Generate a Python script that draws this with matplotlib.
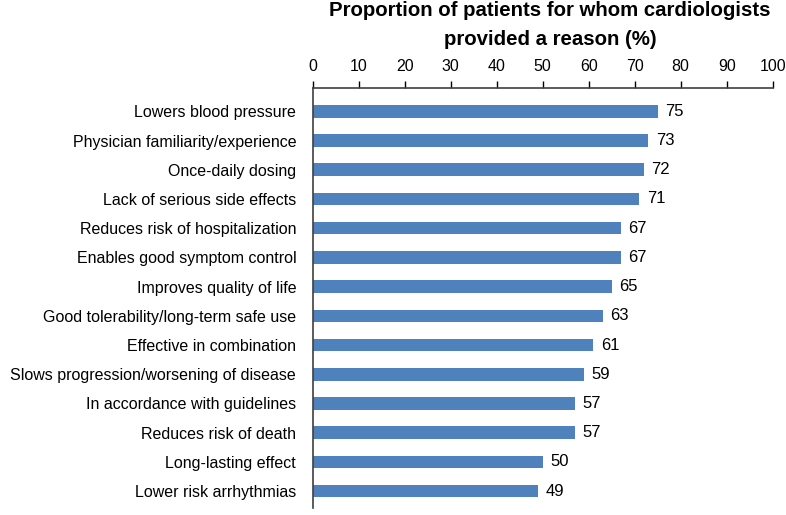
import matplotlib.pyplot as plt

plt.rcParams['font.family'] = ['Liberation Sans', 'DejaVu Sans']

reasons = [
    'Lowers blood pressure',
    'Physician familiarity/experience',
    'Once-daily dosing',
    'Lack of serious side effects',
    'Reduces risk of hospitalization',
    'Enables good symptom control',
    'Improves quality of life',
    'Good tolerability/long-term safe use',
    'Effective in combination',
    'Slows progression/worsening of disease',
    'In accordance with guidelines',
    'Reduces risk of death',
    'Long-lasting effect',
    'Lower risk arrhythmias',
]
percent = [75, 73, 72, 71, 67, 67, 65, 63, 61, 59, 57, 57, 50, 49]
x_ticks = list(range(0, 101, 10))

fig = plt.figure(figsize=(7.86, 5.15), dpi=100)
ax = fig.add_axes([0.398, 0.0136, 0.585, 0.815])

pos = list(range(len(reasons)))
ax.barh(pos, percent, height=0.43, color='#4f81bd')
for p, v in zip(pos, percent):
    ax.annotate(str(v), (v, p), xytext=(5.5, 0), textcoords='offset points',
                ha='left', va='center', fontsize=12)

ax.set_ylim(13.58, -0.79)
ax.set_xlim(0, 100)
ax.set_yticks(pos)
ax.set_yticklabels(reasons, fontsize=11.5)
ax.tick_params(axis='y', length=0, pad=12)

ax.xaxis.tick_top()
ax.set_xticks(x_ticks)
ax.tick_params(axis='x', labelsize=11.5, length=5, width=1, direction='out', pad=5)

for s in ['right', 'bottom']:
    ax.spines[s].set_visible(False)
for s in ['top', 'left']:
    ax.spines[s].set_color('#404040')
    ax.spines[s].set_linewidth(1.2)

fig.text(0.70, 0.998, 'Proportion of patients for whom cardiologists\nprovided a reason (%)',
         ha='center', va='top', fontsize=14.7, fontweight='bold', linespacing=1.65)

fig.savefig('out.png', dpi=100)
